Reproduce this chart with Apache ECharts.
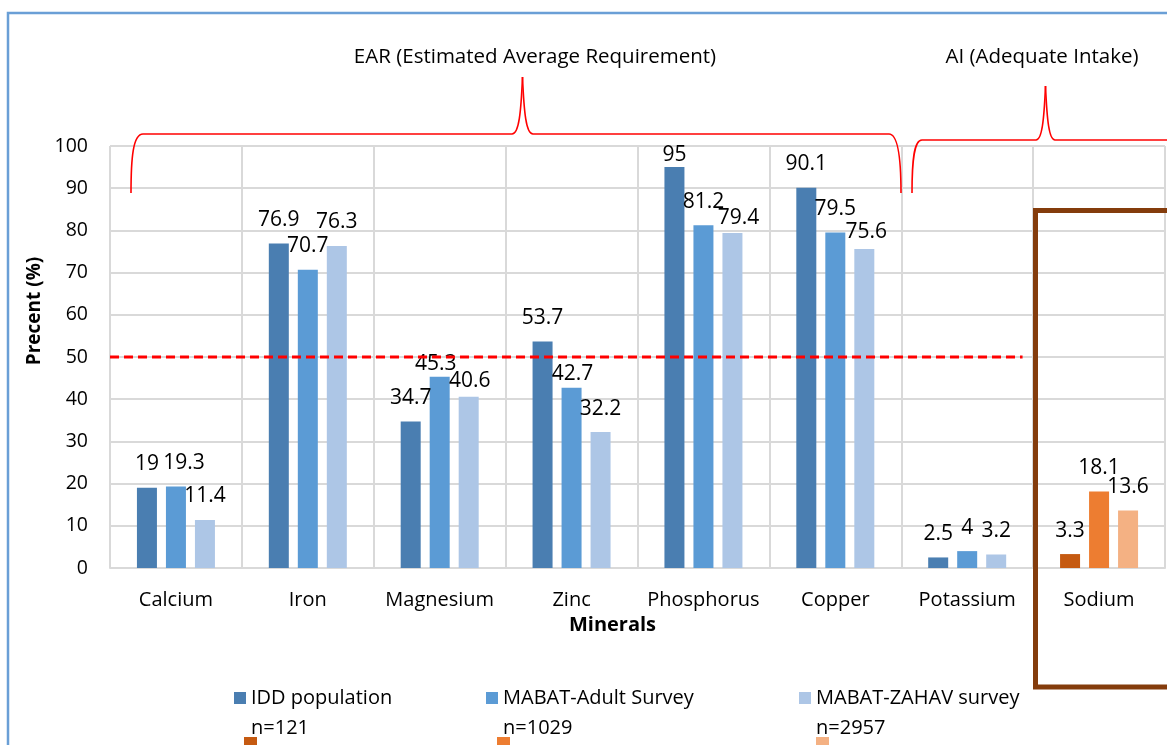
<!DOCTYPE html>
<html>
<head>
<meta charset="utf-8">
<script src="https://cdn.jsdelivr.net/npm/echarts@6/dist/echarts.min.js"></script>
<style>
  html, body { margin: 0; padding: 0; background: #ffffff; }
  #chart { width: 1167px; height: 745px; }
</style>
</head>
<body>
<div id="chart"></div>
<script>
// Share of each population below the requirement, by mineral
const categories = ['Calcium', 'Iron', 'Magnesium', 'Zinc', 'Phosphorus', 'Copper', 'Potassium', 'Sodium'];
const iddValues   = [19, 76.9, 34.7, 53.7, 95, 90.1, 2.5, 3.3];
const adultValues = [19.3, 70.7, 45.3, 42.7, 81.2, 79.5, 4, 18.1];
const zahavValues = [11.4, 76.3, 40.6, 32.2, 79.4, 75.6, 3.2, 13.6];
const seriesNames = ['IDD population', 'MABAT-Adult Survey', 'MABAT-ZAHAV survey'];
const sampleSizes = ['n=121', 'n=1029', 'n=2957'];
// 50% cut-off line, spanning the EAR/AI minerals (in category units)
const cutoffValue = 50;
const cutoffSpan = [0, 6.92];
const yMin = 0, yMax = 100, yStep = 10;

const FONT = 'Open Sans';
const blues   = ['#4A7EB1', '#5B9BD5', '#ADC6E6'];
const oranges = ['#C55A11', '#ED7D31', '#F4B183'];
const highlighted = 'Sodium';

// hand-placed label nudges, [dx, dy] in pixels, keyed by series then category
const labelNudges = [
  { Phosphorus: [0, 11] },
  { Calcium: [8, 0], Magnesium: [-4, 11], Zinc: [1, 10] },
  { Magnesium: [1, 8], Phosphorus: [6, 9], Copper: [2, 7] }
];

function buildData(values, s) {
  return values.map((v, i) => {
    const item = { value: v };
    if (categories[i] === highlighted) item.itemStyle = { color: oranges[s] };
    const n = labelNudges[s][categories[i]];
    if (n) item.label = { offset: n };
    return item;
  });
}

const allValues = [iddValues, adultValues, zahavValues];
const barSeries = allValues.map((vals, s) => ({
  name: seriesNames[s],
  type: 'bar',
  barWidth: 20,
  barGap: '45%',
  itemStyle: { color: blues[s] },
  label: {
    show: true,
    position: 'top',
    distance: 13,
    color: '#000',
    fontFamily: FONT,
    fontSize: 21
  },
  data: buildData(vals, s),
  z: 2
}));

// one legend per survey; the leading blank line keeps the name level with the swatch
const legendLefts = [234, 486, 799];
const legends = seriesNames.map((nm, s) => ({
  data: [nm],
  left: legendLefts[s],
  top: 653,
  padding: 0,
  itemWidth: 12,
  itemHeight: 12,
  icon: 'rect',
  selectedMode: false,
  formatter: name => ' \n' + name + '\n' + sampleSizes[s],
  textStyle: { fontFamily: FONT, fontSize: 20, color: '#000', lineHeight: 30 }
}));

// curly braces grouping the minerals by reference value type
// each segment: ['L', x1,y1, x2,y2] or ['C', x1,y1, cx1,cy1, cx2,cy2, x2,y2]
const braceEAR = [
  ['C', 131, 193, 131, 158, 133, 134, 143, 134],
  ['L', 143, 134, 512, 134],
  ['C', 512, 134, 519, 134, 521, 112, 522.5, 77],
  ['C', 522.5, 77, 524, 112, 526, 134, 533, 134],
  ['L', 533, 134, 889, 134],
  ['C', 889, 134, 898, 134, 901, 158, 901, 193]
];
const braceAI = [
  ['C', 912, 193, 912, 160, 914, 140, 922, 140],
  ['L', 922, 140, 1036, 140],
  ['C', 1036, 140, 1042, 140, 1044, 120, 1045.5, 86],
  ['C', 1045.5, 86, 1047, 120, 1049, 140, 1055, 140],
  ['L', 1055, 140, 1170, 140]
];
function braceElements(segs) {
  const style = { fill: 'none', stroke: '#FF0000', lineWidth: 1.6 };
  return segs.map(s => s[0] === 'L'
    ? { type: 'line', shape: { x1: s[1], y1: s[2], x2: s[3], y2: s[4] }, style, z: 10, silent: true }
    : { type: 'bezierCurve', shape: { x1: s[1], y1: s[2], cpx1: s[3], cpy1: s[4], cpx2: s[5], cpy2: s[6], x2: s[7], y2: s[8] }, style, z: 10, silent: true });
}

const option = {
  backgroundColor: '#ffffff',
  animation: false,
  textStyle: { fontFamily: FONT },
  grid: { left: 110, right: 2, top: 146, bottom: 177, containLabel: false },
  legend: legends,
  xAxis: [
    {
      type: 'category',
      data: categories,
      name: 'Minerals',
      nameLocation: 'middle',
      nameGap: 39,
      nameTextStyle: { fontFamily: FONT, fontSize: 20, fontWeight: 'bold', color: '#000', padding: [0, 50, 0, 0] },
      axisLine: { lineStyle: { color: '#D9D9D9', width: 2 } },
      axisTick: { show: false },
      axisLabel: { interval: 0, fontFamily: FONT, fontSize: 20, color: '#000', margin: 22 },
      splitLine: { show: true, interval: 0, lineStyle: { color: '#D9D9D9', width: 2 } }
    },
    {
      type: 'value', min: 0, max: categories.length, show: false
    }
  ],
  yAxis: {
    type: 'value',
    min: yMin, max: yMax, interval: yStep,
    name: 'Precent (%)',
    nameLocation: 'middle',
    nameGap: 62,
    nameTextStyle: { fontFamily: FONT, fontSize: 19, fontWeight: 'bold', color: '#000', padding: [0, 0, 0, 92] },
    axisLine: { show: false },
    axisTick: { show: false },
    axisLabel: { fontFamily: FONT, fontSize: 19.5, color: '#000', margin: 22 },
    splitLine: { lineStyle: { color: '#D9D9D9', width: 2 } }
  },
  series: barSeries.concat([{
    name: 'cutoff',
    type: 'line',
    xAxisIndex: 1,
    data: cutoffSpan.map(x => [x, cutoffValue]),
    symbol: 'none',
    silent: true,
    lineStyle: { color: '#FF0000', width: 2.8, type: [9, 5] },
    z: 5
  }]),
  graphic: [
    { type: 'rect', shape: { x: 8, y: 13, width: 1200, height: 800 }, style: { fill: 'none', stroke: '#6A9FD6', lineWidth: 2.5 }, z: 10, silent: true }
  ].concat(braceElements(braceEAR), braceElements(braceAI), [
    { type: 'text', x: 535, y: 57, style: { text: 'EAR (Estimated Average Requirement)', font: '20.5px "Open Sans"', fill: '#000', textAlign: 'center', textVerticalAlign: 'middle' }, z: 10 },
    { type: 'text', x: 1042, y: 57, style: { text: 'AI (Adequate Intake)', font: '20.5px "Open Sans"', fill: '#000', textAlign: 'center', textVerticalAlign: 'middle' }, z: 10 },
    { type: 'rect', shape: { x: 1035.5, y: 210.5, width: 200, height: 476.5 }, style: { fill: 'none', stroke: '#843C0C', lineWidth: 5 }, z: 10, silent: true },
    { type: 'rect', shape: { x: 244, y: 737, width: 13, height: 13 }, style: { fill: oranges[0] }, z: 10, silent: true },
    { type: 'rect', shape: { x: 497, y: 737, width: 13, height: 13 }, style: { fill: oranges[1] }, z: 10, silent: true },
    { type: 'rect', shape: { x: 816, y: 737, width: 13, height: 13 }, style: { fill: oranges[2] }, z: 10, silent: true }
  ])
};

const chart = echarts.init(document.getElementById('chart'), null, { renderer: 'canvas' });
chart.setOption(option);
</script>
</body>
</html>
